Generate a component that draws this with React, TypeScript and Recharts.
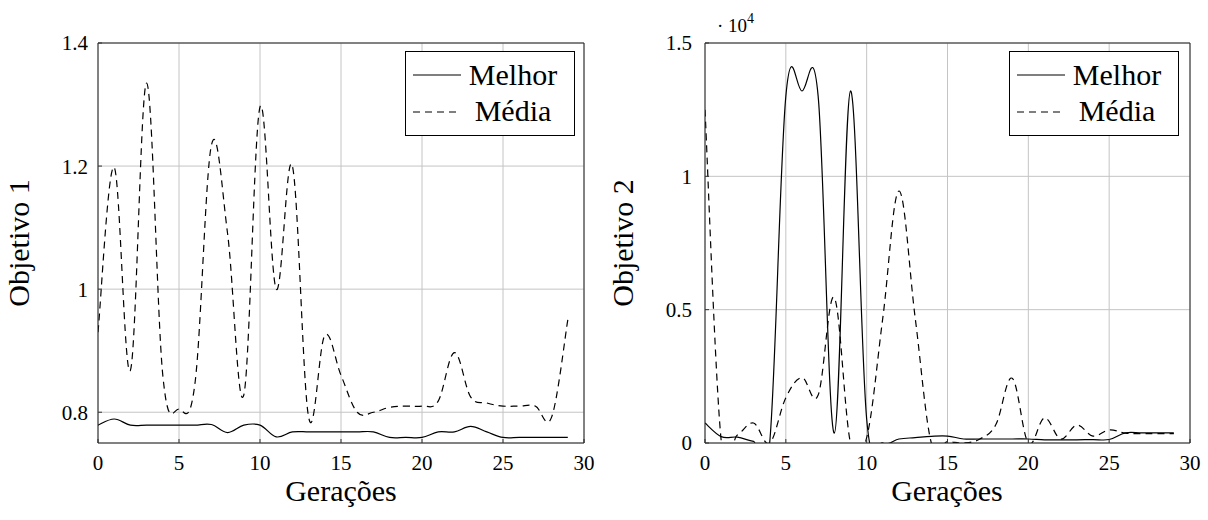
import React from 'react';
import { LineChart, Line, XAxis, YAxis, CartesianGrid, Legend } from 'recharts';

const generations = [0, 1, 2, 3, 4, 5, 6, 7, 8, 9, 10, 11, 12, 13, 14, 15, 16, 17, 18, 19, 20, 21, 22, 23, 24, 25, 26, 27, 28, 29];

const obj1Melhor = [0.779, 0.789, 0.779, 0.779, 0.779, 0.779, 0.779, 0.78, 0.767, 0.779, 0.779, 0.76, 0.768, 0.768, 0.768, 0.768, 0.768, 0.768, 0.759, 0.759, 0.759, 0.768, 0.768, 0.777, 0.768, 0.759, 0.759, 0.759, 0.759, 0.759];
const obj1Media = [0.93, 1.198, 0.868, 1.335, 0.86, 0.805, 0.85, 1.234, 1.09, 0.828, 1.296, 1.0, 1.2, 0.792, 0.925, 0.86, 0.8, 0.8, 0.808, 0.81, 0.81, 0.818, 0.897, 0.825, 0.815, 0.81, 0.81, 0.81, 0.792, 0.95];

const obj2Melhor = [750, 240, 220, 60, 0, 13000, 13200, 13000, 370, 13200, 900, 0, 150, 200, 250, 260, 150, 150, 150, 150, 150, 120, 120, 120, 130, 130, 380, 380, 380, 380];
const obj2Media = [12500, 100, 300, 750, 0, 1700, 2450, 1800, 5450, 0, 200, 4700, 9450, 4700, 0, 50, 0, 150, 700, 2430, 0, 940, 150, 670, 260, 490, 370, 350, 350, 350];

const xTicks = [0, 5, 10, 15, 20, 25, 30];
const y1Ticks = [0.8, 1, 1.2, 1.4];
const y2Ticks = [0, 5000, 10000, 15000];
const seriesNames = ['Melhor', 'Média'];
const xTitle = 'Gerações';
const y1Title = 'Objetivo 1';
const y2Title = 'Objetivo 2';
const scaleNote = '· 10';
const scaleExp = '4';

const FONT = '"Liberation Serif", "DejaVu Serif", serif';
const TENSION = 0.18;

function smoothCurve(context: any) {
  let pts: number[][] = [];
  return {
    areaStart() {},
    areaEnd() {},
    lineStart() {
      pts = [];
    },
    point(x: number, y: number) {
      pts.push([+x, +y]);
    },
    lineEnd() {
      const n = pts.length;
      if (n === 0) return;
      context.moveTo(pts[0][0], pts[0][1]);
      for (let i = 0; i < n - 1; i++) {
        const p0 = pts[i > 0 ? i - 1 : i];
        const p1 = pts[i];
        const p2 = pts[i + 1];
        const p3 = pts[i + 2 < n ? i + 2 : i + 1];
        context.bezierCurveTo(
          p1[0] + (p2[0] - p0[0]) * TENSION,
          p1[1] + (p2[1] - p0[1]) * TENSION,
          p2[0] - (p3[0] - p1[0]) * TENSION,
          p2[1] - (p3[1] - p1[1]) * TENSION,
          p2[0],
          p2[1]
        );
      }
    },
  };
}

const LegendBox = () => (
  <div
    style={{
      width: 170,
      height: 85,
      boxSizing: 'border-box',
      border: '1px solid #000',
      background: '#fff',
      fontFamily: FONT,
      fontSize: 30,
      position: 'relative',
      color: '#000',
    }}
  >
    <svg width={60} height={83} style={{ position: 'absolute', left: 0, top: 0 }}>
      <line x1={7} x2={55} y1={23} y2={23} stroke="#000" strokeWidth={1.2} />
      <line x1={7} x2={55} y1={60} y2={60} stroke="#000" strokeWidth={1.2} strokeDasharray="7 5" />
    </svg>
    <div style={{ position: 'absolute', left: 58, width: 98, top: 23, transform: 'translateY(-50%)', lineHeight: 1, textAlign: 'center', whiteSpace: 'nowrap' }}>
      {seriesNames[0]}
    </div>
    <div style={{ position: 'absolute', left: 58, width: 98, top: 59, transform: 'translateY(-50%)', lineHeight: 1, textAlign: 'center', whiteSpace: 'nowrap' }}>
      {seriesNames[1]}
    </div>
  </div>
);

type PanelProps = {
  left: number;
  melhor: number[];
  media: number[];
  yDomain: number[];
  yTicks: number[];
  yFormat: (v: number) => string;
  marginRight: number;
  yTickMargin: number;
  legendLeft: number;
};

const Panel = ({ left, melhor, media, yDomain, yTicks, yFormat, marginRight, yTickMargin, legendLeft }: PanelProps) => {
  const data = generations.map((g, i) => ({ g, melhor: melhor[i], media: media[i] }));
  const tickStyle = { fontFamily: FONT, fontSize: 21, fill: '#000' };
  return (
    <div style={{ position: 'absolute', left, top: 0, width: 600, height: 520 }}>
      <LineChart width={600} height={520} data={data} margin={{ top: 42, right: marginRight, bottom: 47, left: 38 }}>
        <CartesianGrid stroke="#c4c4c4" strokeWidth={1} />
        <XAxis
          dataKey="g"
          type="number"
          domain={[0, 30]}
          ticks={xTicks}
          interval={0}
          allowDataOverflow
          height={30}
          tickSize={-4}
          tickMargin={16}
          tick={tickStyle}
          tickLine={{ stroke: '#333' }}
          axisLine={{ stroke: '#222' }}
        />
        <XAxis
          xAxisId="top"
          orientation="top"
          type="number"
          domain={[0, 30]}
          ticks={xTicks}
          interval={0}
          allowDataOverflow
          height={1}
          tickSize={-4}
          tick={false}
          tickLine={{ stroke: '#333' }}
          axisLine={{ stroke: '#222' }}
        />
        <YAxis
          type="number"
          domain={yDomain}
          ticks={yTicks}
          interval={0}
          allowDataOverflow
          width={60}
          tickSize={-4}
          tickMargin={yTickMargin}
          tickFormatter={yFormat}
          tick={tickStyle}
          tickLine={{ stroke: '#333' }}
          axisLine={{ stroke: '#222' }}
        />
        <YAxis
          yAxisId="right"
          orientation="right"
          type="number"
          domain={yDomain}
          ticks={yTicks}
          interval={0}
          allowDataOverflow
          width={1}
          tickSize={-4}
          tick={false}
          tickLine={{ stroke: '#333' }}
          axisLine={{ stroke: '#222' }}
        />
        <Line
          dataKey="melhor"
          name={seriesNames[0]}
          type={smoothCurve as any}
          stroke="#000"
          strokeWidth={1.2}
          dot={false}
          activeDot={false}
          isAnimationActive={false}
        />
        <Line
          dataKey="media"
          name={seriesNames[1]}
          type={smoothCurve as any}
          stroke="#000"
          strokeWidth={1.2}
          strokeDasharray="7 5"
          dot={false}
          activeDot={false}
          isAnimationActive={false}
        />
        <Legend
          layout="vertical"
          align="center"
          verticalAlign="middle"
          content={() => <LegendBox />}
          wrapperStyle={{ left: legendLeft, top: 51, width: 170, height: 85 }}
        />
      </LineChart>
    </div>
  );
};

const textBase: React.CSSProperties = {
  position: 'absolute',
  fontFamily: FONT,
  fontSize: 30,
  lineHeight: 1,
  whiteSpace: 'nowrap',
  color: '#000',
};

export default function App() {
  return (
    <div style={{ position: 'absolute', left: 0, top: 0, width: 1208, height: 520, background: '#fff', overflow: 'hidden' }}>
      <Panel
        left={0}
        melhor={obj1Melhor}
        media={obj1Media}
        yDomain={[0.75, 1.4]}
        yTicks={y1Ticks}
        yFormat={(v: number) => String(v)}
        marginRight={15}
        yTickMargin={14}
        legendLeft={405}
      />
      <Panel
        left={607}
        melhor={obj2Melhor}
        media={obj2Media}
        yDomain={[0, 15000]}
        yTicks={y2Ticks}
        yFormat={(v: number) => String(v / 10000)}
        marginRight={16}
        yTickMargin={17}
        legendLeft={402}
      />
      <div style={{ ...textBase, left: 19, top: 243, transform: 'translate(-50%, -50%) rotate(-90deg)' }}>{y1Title}</div>
      <div style={{ ...textBase, left: 623, top: 243, transform: 'translate(-50%, -50%) rotate(-90deg)' }}>{y2Title}</div>
      <div style={{ ...textBase, left: 341, top: 491, transform: 'translate(-50%, -50%)' }}>{xTitle}</div>
      <div style={{ ...textBase, left: 947, top: 491, transform: 'translate(-50%, -50%)' }}>{xTitle}</div>
      <div style={{ ...textBase, fontSize: 19, left: 717, top: 16 }}>
        {scaleNote}
        <span style={{ fontSize: 14, position: 'relative', top: -9 }}>{scaleExp}</span>
      </div>
    </div>
  );
}
